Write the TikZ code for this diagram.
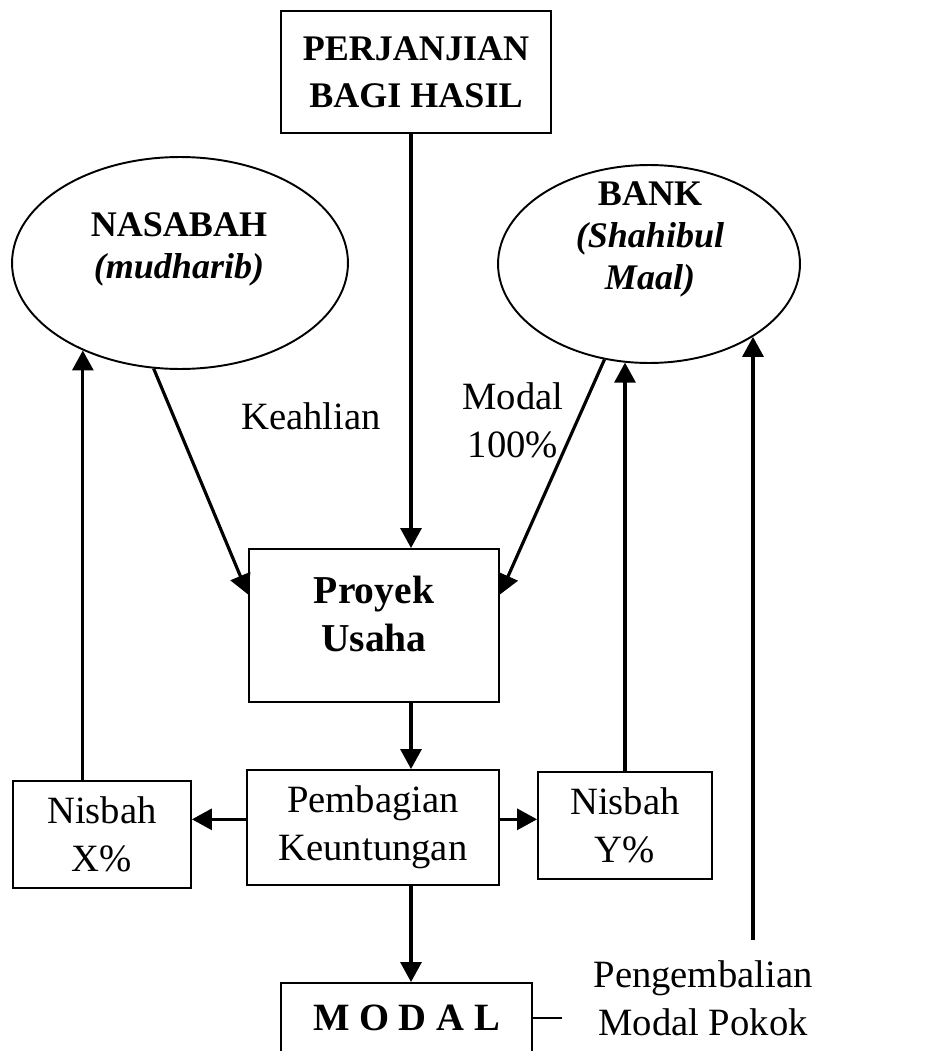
\documentclass[tikz,border=0pt]{standalone}
\usepackage{fontspec}
\setmainfont{Liberation Serif}
\usetikzlibrary{arrows.meta,calc,shapes.geometric}

\begin{document}
\begin{tikzpicture}[x=0.02cm, y=-0.02cm]
    \tikzset{BoxStyle/.style = {draw, rectangle, line width=1.1pt,
        align=center, inner sep=0pt,
        font=\fontsize{22}{27.3}\selectfont},
      EllipseStyle/.style = {draw, ellipse, line width=1.1pt, inner sep=0pt},
      TitleStyle/.style = {align=center,
        font=\bfseries\fontsize{20.5}{23.9}\selectfont},
      LabelStyle/.style = {align=center,
        font=\fontsize{22}{27.3}\selectfont},
      EdgeStyle/.style = {line width=1.8pt,
        -{Triangle[length=0.4cm,width=0.42cm]}}}
    \useasboundingbox (0,0) rectangle (927,1051);
    \coordinate (S) at (411,0);
    \node[BoxStyle, minimum width=5.4cm, minimum height=2.44cm,
      font=\bfseries\fontsize{20.5}{26.7}\selectfont] (P) at (416,72) {PERJANJIAN\\BAGI HASIL};
    \node[EllipseStyle, minimum width=6.72cm, minimum height=4.24cm] (N) at (180,263) {};
    \node[TitleStyle] (NT) at ($(N) + (-1,-14)$) {NASABAH\\\textit{(mudharib)}};
    \node[EllipseStyle, minimum width=6.04cm, minimum height=3.96cm] (B) at (649,264) {};
    \node[TitleStyle] (BT) at ($(B) + (1,-25)$) {BANK\\\textit{(Shahibul}\\\textit{Maal)}};
    \node[BoxStyle, minimum width=5cm, minimum height=3.06cm] (U) at (374,625.5) {};
    \node[TitleStyle, font=\bfseries\fontsize{22.5}{27.3}\selectfont] (UT) at ($(U) + (0,-12)$) {Proyek\\Usaha};
    \node[BoxStyle, minimum width=5.04cm, minimum height=2.3cm] (K) at (373,827.5) {Pembagian\\Keuntungan};
    \node[BoxStyle, minimum width=3.56cm, minimum height=2.14cm] (X) at (102,834.5) {Nisbah\\X\%};
    \node[BoxStyle, minimum width=3.48cm, minimum height=2.14cm] (Y) at (625,825.5) {Nisbah\\Y\%};
    \node[BoxStyle, minimum width=5.02cm, minimum height=1.4cm,
      font=\bfseries\fontsize{22}{27.3}\selectfont] (M) at (406.5,1018) {M O D A L};
    \node[LabelStyle] (KL) at (311,416) {Keahlian};
    \node[LabelStyle] (ML) at (513,420) {Modal\\100\%};
    \node[LabelStyle] (PL) at (703,998) {Pengembalian\\Modal Pokok};
    \coordinate (PK) at (753,940);
    \coordinate (T) at (562,1018);
    \coordinate (KW) at ($(K.north west)!0.43!(K.south west)$);
    \coordinate (KE) at ($(K.north east)!0.43!(K.south east)$);
    \draw[EdgeStyle] (P.south -| S) -- (U.north -| S);
    \draw[EdgeStyle] (U.south -| S) -- (K.north -| S);
    \draw[EdgeStyle] (K.south -| S) -- (M.north -| S);
    \draw[EdgeStyle] (N.256) -- ($(U.north west)!0.3!(U.south west)$);
    \draw[EdgeStyle] (B.245) -- ($(U.north east)!0.3!(U.south east)$);
    \draw[EdgeStyle] (KW) -- (KW -| X.east);
    \draw[EdgeStyle] (KE) -- (KE -| Y.west);
    \draw[EdgeStyle] (X.north -| N.222) -- (N.222);
    \draw[EdgeStyle] (Y.north) -- (Y.north |- B.256);
    \draw[EdgeStyle] (PK) -- (PK |- B.325);
    \draw[line width=1.1pt] (M.east) -- (T);
  \end{tikzpicture}
\end{document}
